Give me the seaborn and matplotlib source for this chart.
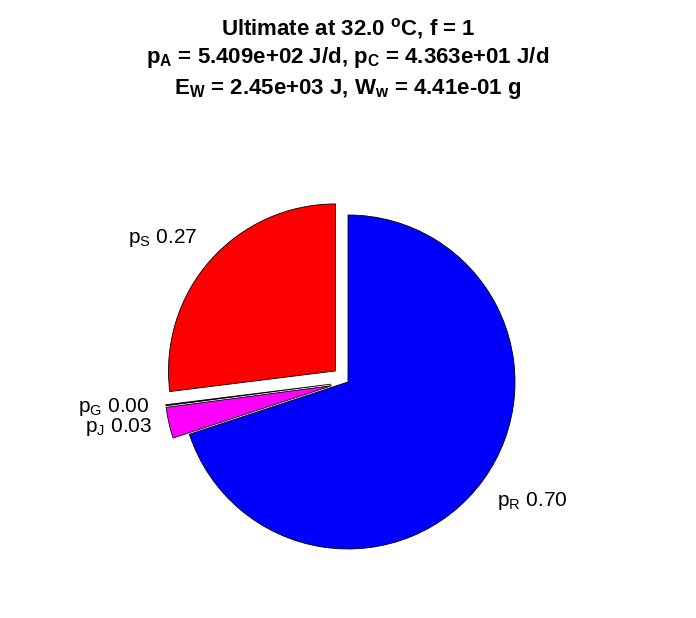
import matplotlib
matplotlib.use('Agg')
import matplotlib.pyplot as plt
import seaborn as sns

# pie fractions (counter-clockwise from the top)
names = ['S', 'G', 'J', 'R']
fracs = [0.27, 0.001, 0.03, 0.70]
shown = [0.27, 0.00, 0.03, 0.70]
explode = [0.1, 0.1, 0.1, 0.0]
colors = ['#ff0000', '#404040', '#ff00ff', '#0000ff']

title_lines = [
    r'Ultimate at 32.0 $^{\mathbf{o}}$C, f = 1',
    r'$\mathbf{p_A}$ = 5.409e+02 J/d, $\mathbf{p_C}$ = 4.363e+01 J/d',
    r'$\mathbf{E_W}$ = 2.45e+03 J, $\mathbf{W_w}$ = 4.41e-01 g',
]

sns.set_theme(style='white')
plt.rcParams['font.family'] = ['Liberation Sans', 'DejaVu Sans']
plt.rcParams['text.color'] = 'black'
plt.rcParams['mathtext.fontset'] = 'custom'
plt.rcParams['mathtext.rm'] = 'Liberation Sans'
plt.rcParams['mathtext.it'] = 'Liberation Sans'
plt.rcParams['mathtext.bf'] = 'Liberation Sans:bold'

fig = plt.figure(figsize=(6.96, 6.18), dpi=100)
ax = fig.add_axes([0.1641, 0.0036, 0.6718, 0.7566])

labels = [r'$\mathrm{p_%s}$ %.2f' % (n, v) for n, v in zip(names, shown)]
wedges, texts = ax.pie(fracs, explode=explode, colors=colors, labels=labels,
                       startangle=90, counterclock=True, labeldistance=1.1,
                       wedgeprops=dict(edgecolor='black', linewidth=0.6),
                       textprops=dict(fontsize=15, color='black'))
# MATLAB style vertical alignment of the labels
for t in texts:
    x, y = t.get_position()
    if abs(y) < 0.5:
        t.set_va('center')
    else:
        t.set_va('bottom' if y > 0 else 'top')

ax.set_xlim(-1.4, 1.4)
ax.set_ylim(-1.4, 1.4)
ax.set_aspect('equal')
ax.axis('off')

for line, base in zip(title_lines, [35, 63, 94]):
    fig.text(0.5, 1 - base / 618, line, ha='center', va='baseline',
             fontsize=16, fontweight='bold', color='black')

fig.savefig('out.png', dpi=100)
